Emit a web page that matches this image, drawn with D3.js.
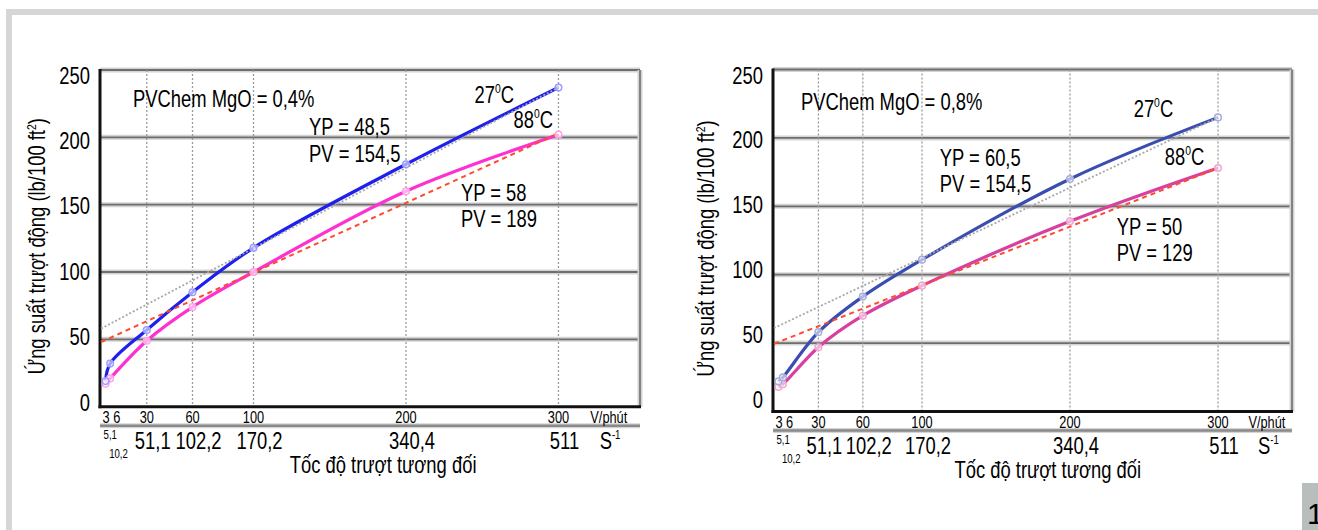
<!DOCTYPE html>
<html><head><meta charset="utf-8">
<script src="https://cdn.jsdelivr.net/npm/d3@7"></script>
<style>
html,body{margin:0;padding:0;background:#fff;}
svg{display:block;}
text{font-family:"Liberation Sans",Arial,sans-serif;fill:#000;}
</style></head><body>
<svg id="c" width="1318" height="530"></svg>
<script>
// ---------- data ----------
const rpm = [3, 6, 30, 60, 100, 200, 300];
const left27 = [19, 32, 57, 85, 118, 180, 237];
const left88 = [17, 21, 49, 74, 100, 160, 202];
const right27 = [22, 25, 58, 84, 111, 170, 215];
const right88 = [18, 20, 47, 70, 92, 139, 178];
const fitRpm = [0, 300];
const leftFit27 = [58, 237];
const leftFit88 = [48, 203];
const rightFit27 = [61, 215];
const rightFit88 = [49.5, 178];
const yTicks = [0, 50, 100, 150, 200, 250];
const rpmTicks = [30, 60, 100, 200, 300];
const rpmTickLabels = ["30", "60", "100", "200", "300"];
const shearTickLabels = ["51,1", "102,2", "170,2", "340,4", "511"];
const lowRpmLabel = "3 6";
const lowShearLabels = ["5,1", "10,2"];
const rpmUnit = "V/phút";
const shearUnit = ["S", "-1"];
const xTitle = "Tốc độ trượt tương đối";
const yTitle = ["Ứng suất trượt động (lb/100 ft", "2", ")"];
const panelTitles = ["PVChem MgO = 0,4%", "PVChem MgO = 0,8%"];
const tempLabels = ["27", "88"];
const leftFitText27 = ["YP = 48,5", "PV = 154,5"];
const leftFitText88 = ["YP = 58", "PV = 189"];
const rightFitText27 = ["YP = 60,5", "PV = 154,5"];
const rightFitText88 = ["YP = 50", "PV = 129"];

// ---------- layout ----------
const K = 0.8; // horizontal condensing of the text face
const svg = d3.select("#c");
function txt(sel, x, y, size, anchor) {
  return sel.append("text")
    .attr("transform", `translate(${x},${y}) scale(${K},1)`)
    .attr("font-size", size).attr("text-anchor", anchor || "start");
}

// page frame
svg.append("rect").attr("x", 6).attr("y", 9).attr("width", 1312).attr("height", 6).attr("fill", "#d6d6d6");
svg.append("rect").attr("x", 6).attr("y", 9).attr("width", 6).attr("height", 521).attr("fill", "#d6d6d6");
svg.append("rect").attr("x", 1302).attr("y", 483).attr("width", 16).attr("height", 47).attr("fill", "#b8bebb");
svg.append("text").attr("x", 1307).attr("y", 524).attr("font-size", 30).text("1");

const panels = [
  {
    xr: [101, 639.3], xmax: 353, yr: [406.7, 70], lyr: [402.5, 75.5], edge: 640,
    c27: left27, c88: left88, f27: leftFit27, f88: leftFit88,
    blue: "#1f1fee", blueM: "#9b9bff", pink: "#ff30d0", pinkM: "#ffa0ea",
    title: panelTitles[0], yTitleX: 37,
    fitText27: leftFitText27, fitText88: leftFitText88,
    ann: { title: [21, 222.5], t27: [245, 225.5], t88: [270.5, 207], f27: [136.4, 201.7], f88: [236, 153] },
    lineGap: 26.5
  },
  {
    xr: [774, 1293.5], xmax: 351, yr: [411.5, 69.5], lyr: [400, 75.5], edge: 1292,
    c27: right27, c88: right88, f27: rightFit27, f88: rightFit88,
    blue: "#3a4db0", blueM: "#a5adde", pink: "#d8409f", pinkM: "#eea5d2",
    title: panelTitles[1], yTitleX: 706,
    fitText27: rightFitText27, fitText88: rightFitText88,
    ann: { title: [18.2, 220.4], t27: [243, 215.5], t88: [264, 180], f27: [112, 179.7], f88: [231.5, 129] },
    lineGap: 26
  }
];

function drawPanel(p) {
  const g = svg.append("g");
  const x = d3.scaleLinear().domain([0, p.xmax]).range(p.xr);
  const y = d3.scaleLinear().domain([0, 250]).range(p.yr);
  const yl = d3.scaleLinear().domain([0, 250]).range(p.lyr);
  const x0 = x(0) - 1, x1 = p.edge, y0 = y(0), yTop = y(250);

  // horizontal grid (with halo)
  const hg = yTicks.filter(v => v > 0);
  g.selectAll(".hh").data(hg).enter().append("line")
    .attr("x1", x0).attr("x2", x1).attr("y1", d => y(d)).attr("y2", d => y(d))
    .attr("stroke", "#d4d4d4").attr("stroke-width", 5);
  g.selectAll(".hg").data(hg).enter().append("line")
    .attr("x1", x0).attr("x2", x1).attr("y1", d => y(d)).attr("y2", d => y(d))
    .attr("stroke", "#6e6e6e").attr("stroke-width", 1.8);
  // right frame
  g.append("line").attr("x1", x1).attr("x2", x1).attr("y1", yTop).attr("y2", y0)
    .attr("stroke", "#d4d4d4").attr("stroke-width", 5);
  g.append("line").attr("x1", x1).attr("x2", x1).attr("y1", yTop).attr("y2", y0)
    .attr("stroke", "#7a7a7a").attr("stroke-width", 1.8);
  // vertical dotted grid
  g.selectAll(".vg").data(rpmTicks).enter().append("line")
    .attr("x1", d => x(d)).attr("x2", d => x(d)).attr("y1", yTop).attr("y2", y0)
    .attr("stroke", "#9a9a9a").attr("stroke-width", 1.3).attr("stroke-dasharray", "2,2");

  // axes
  g.append("line").attr("x1", x0).attr("x2", x0).attr("y1", yTop - 1).attr("y2", y0 + 1.5)
    .attr("stroke", "#111").attr("stroke-width", 3);
  g.append("line").attr("x1", x0 - 1.5).attr("x2", x1 + 1).attr("y1", y0).attr("y2", y0)
    .attr("stroke", "#111").attr("stroke-width", 3);
  // secondary scale line
  const y2 = y0 + 19;
  g.append("line").attr("x1", x0).attr("x2", x1).attr("y1", y2).attr("y2", y2)
    .attr("stroke", "#d4d4d4").attr("stroke-width", 5);
  g.append("line").attr("x1", x0).attr("x2", x1).attr("y1", y2).attr("y2", y2)
    .attr("stroke", "#8a8a8a").attr("stroke-width", 2.5);

  // y tick labels
  g.selectAll(".yl").data(yTicks).enter().append("text")
    .attr("transform", d => `translate(${x0 - 10},${yl(d)}) scale(${K},1)`)
    .attr("dy", "0.35em").attr("text-anchor", "end").attr("font-size", 23).text(d => d);

  // rpm tick labels
  g.selectAll(".xl").data(rpmTicks).enter().append("text")
    .attr("transform", d => `translate(${x(d)},${y0 + 16}) scale(${K},1)`)
    .attr("text-anchor", "middle").attr("font-size", 16).text((d, i) => rpmTickLabels[i]);
  txt(g, x(3) - 3, y0 + 16, 16).text(lowRpmLabel);
  txt(g, x(333), y0 + 16, 16, "middle").text(rpmUnit);

  // shear rate labels
  g.selectAll(".sl").data(rpmTicks).enter().append("text")
    .attr("transform", d => `translate(${x(d) + 6},${y0 + 42}) scale(${K},1)`)
    .attr("text-anchor", "middle").attr("font-size", 23).text((d, i) => shearTickLabels[i]);
  txt(g, x(3) - 2, y0 + 32, 12).text(lowShearLabels[0]);
  txt(g, x(6) - 1, y0 + 51, 12).text(lowShearLabels[1]);
  const su = txt(g, x(327), y0 + 42, 23);
  su.append("tspan").text(shearUnit[0]);
  su.append("tspan").attr("font-size", 12).attr("dy", -10).text(shearUnit[1]);

  // x title
  txt(g, x(185), y0 + 66, 23, "middle").text(xTitle);
  // y title
  const yt = g.append("text")
    .attr("transform", `translate(${p.yTitleX},${(yTop + y0) / 2 + 8}) rotate(-90) scale(${K},1)`)
    .attr("text-anchor", "middle").attr("dy", "0.35em").attr("font-size", 23);
  yt.append("tspan").text(yTitle[0]);
  yt.append("tspan").attr("font-size", 13).attr("dy", -9).text(yTitle[1]);
  yt.append("tspan").attr("dy", 9).text(yTitle[2]);

  // curves
  const pts27 = rpm.map((r, i) => [r, p.c27[i]]);
  const pts88 = rpm.map((r, i) => [r, p.c88[i]]);
  const curve = d3.line().x(d => x(d[0])).y(d => y(d[1])).curve(d3.curveCatmullRom.alpha(0.5));
  const straight = d3.line().x(d => x(d[0])).y(d => y(d[1]));

  g.append("path").attr("d", curve(pts88)).attr("fill", "none")
    .attr("stroke", p.pink).attr("stroke-width", 3.2);
  g.append("path").attr("d", curve(pts27)).attr("fill", "none")
    .attr("stroke", p.blue).attr("stroke-width", 3.2);

  // Bingham fit lines
  g.append("path").attr("d", straight(fitRpm.map((r, i) => [r, p.f27[i]]))).attr("fill", "none")
    .attr("stroke", "#a8a8a8").attr("stroke-width", 1.8).attr("stroke-dasharray", "2,2");
  g.append("path").attr("d", straight(fitRpm.map((r, i) => [r, p.f88[i]]))).attr("fill", "none")
    .attr("stroke", "#ff4a30").attr("stroke-width", 2).attr("stroke-dasharray", "5,4");

  // markers
  g.selectAll(".m88").data(pts88).enter().append("circle")
    .attr("cx", d => x(d[0])).attr("cy", d => y(d[1])).attr("r", 3.3)
    .attr("fill", "#fff").attr("fill-opacity", 0.6).attr("stroke", p.pinkM).attr("stroke-width", 1.5);
  g.selectAll(".m27").data(pts27).enter().append("circle")
    .attr("cx", d => x(d[0])).attr("cy", d => y(d[1])).attr("r", 3.3)
    .attr("fill", "#fff").attr("fill-opacity", 0.6).attr("stroke", p.blueM).attr("stroke-width", 1.5);

  // annotations
  const a = p.ann;
  txt(g, x(a.title[0]), y(a.title[1]), 23).text(p.title);
  [[a.t27, tempLabels[0]], [a.t88, tempLabels[1]]].forEach(([pos, t]) => {
    const tt = txt(g, x(pos[0]), y(pos[1]), 23);
    tt.append("tspan").text(t);
    tt.append("tspan").attr("font-size", 13).attr("dy", -10).text("0");
    tt.append("tspan").attr("dy", 10).text("C");
  });
  [[a.f27, p.fitText27], [a.f88, p.fitText88]].forEach(([pos, lines]) => {
    lines.forEach((t, i) => {
      txt(g, x(pos[0]), y(pos[1]) + i * p.lineGap, 23).text(t);
    });
  });
}
panels.forEach(drawPanel);
</script>
</body></html>
